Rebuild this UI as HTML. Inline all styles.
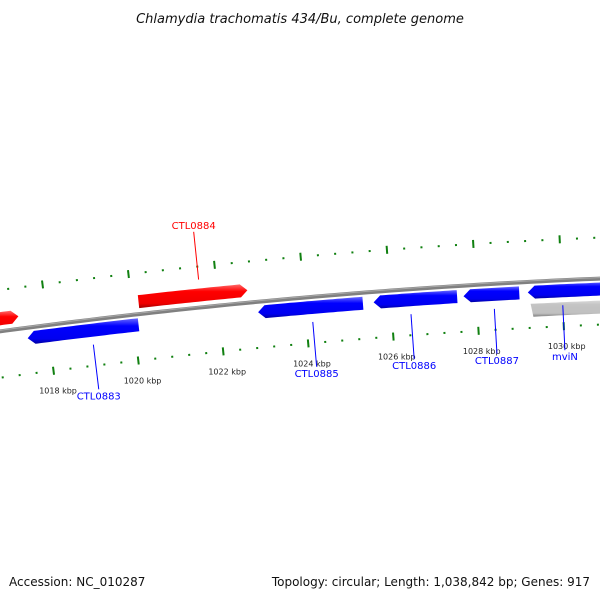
<!DOCTYPE html>
<html><head><meta charset="utf-8"><style>
body{margin:0;background:#fff}
svg{display:block;font-family:"DejaVu Sans","Liberation Sans",sans-serif}
</style></head><body>
<svg id="c" width="600" height="600" viewBox="0 0 600 600">
<defs>
<linearGradient id="gr" x1="0" y1="0" x2="0" y2="1"><stop offset="0" stop-color="#ff6a6a"/><stop offset="0.3" stop-color="#ff0000"/><stop offset="0.8" stop-color="#f00000"/><stop offset="1" stop-color="#a00000"/></linearGradient>
<linearGradient id="gb" x1="0" y1="0" x2="0" y2="1"><stop offset="0" stop-color="#6a6aff"/><stop offset="0.3" stop-color="#0000ff"/><stop offset="0.8" stop-color="#0000f0"/><stop offset="1" stop-color="#0000a0"/></linearGradient>
<linearGradient id="gg" x1="0" y1="0" x2="0" y2="1"><stop offset="0" stop-color="#e0e0e0"/><stop offset="0.3" stop-color="#c4c4c4"/><stop offset="0.8" stop-color="#c0c0c0"/><stop offset="1" stop-color="#808080"/></linearGradient>
</defs>
<text x="300" y="23" text-anchor="middle" font-size="13" font-style="italic" fill="#111">Chlamydia trachomatis 434/Bu, complete genome</text>
<text x="9" y="586" font-size="12" fill="#111">Accession: NC_010287</text>
<text x="590" y="586" text-anchor="end" font-size="12" fill="#111">Topology: circular; Length: 1,038,842 bp; Genes: 917</text>
</svg>
<script>
const geneNames=["CTL0882","CTL0884","CTL0883","CTL0885","CTL0886","CTL0887","mviN","mviN-gray"];
const geneStarts=[1016.0,1020.16,1017.5,1022.9,1025.6,1027.7,1029.2,1029.25];
const geneEnds=[1017.35,1022.7,1020.1,1025.35,1027.55,1029.0,1031.6,1031.6];
const geneStrand=[1,1,-1,-1,-1,-1,-1,0];
const labelGenes=["CTL0884","CTL0883","CTL0885","CTL0886","CTL0887","mviN"];
const labelPos=[1021.6,1019.0,1024.15,1026.45,1028.4,1030.0];
const tickLabels=[1018,1020,1022,1024,1026,1028,1030];
const svg=document.getElementById('c');
const NS='http://www.w3.org/2000/svg';
const R=6500,cx=869,cy=6773,phi0=-0.087,k=43/R;
function ang(p){return phi0+(p-1024)*k;}
function pt(p,r){const a=ang(p);return [cx+r*Math.sin(a),cy-r*Math.cos(a)];}
function mk(t,a){const e=document.createElementNS(NS,t);for(const key in a)e.setAttribute(key,a[key]);svg.appendChild(e);return e;}
// backbone
let d='';for(let p=1010;p<=1034;p+=0.25){const q=pt(p,R);d+=(d?'L':'M')+q[0].toFixed(2)+','+q[1].toFixed(2);}
const bb=mk('path',{d:d,stroke:'#808080','stroke-width':4,fill:'none'});


const bb2=mk('path',{d:d,stroke:'#a8a8a8','stroke-width':1,fill:'none',transform:'translate(0,-1)'});


// ticks
for(let i=0;i<=75;i++){const p=1016+i*0.4;const major=Math.abs(p-Math.round(p))<0.01;
 [[R+41,'outer'],[R-46,'inner']].forEach(([r,nm])=>{
  const a=pt(p,major?r-4:r-1),b=pt(p,major?r+4:r+1);
  const l=mk('line',{x1:a[0],y1:a[1],x2:b[0],y2:b[1],stroke:'#108010','stroke-width':2});
  
  
 });}
tickLabels.forEach(v=>{const q=pt(v,R-66);
 const t=mk('text',{x:q[0]+2,y:q[1]+3,'text-anchor':'middle','font-size':8,fill:'#222'});
 t.textContent=v+' kbp';
 
 });
// genes
geneNames.forEach((n,i)=>{
 const s=geneStrand[i];let r1,r2,fill;
 if(s===1){r1=R+6;r2=R+19;fill='url(#gr)';}else if(s===-1){r1=R-4;r2=R-17;fill='url(#gb)';}else{r1=R-22;r2=R-35;fill='url(#gg)';}
 const ro=Math.max(r1,r2),ri=Math.min(r1,r2),rm=(ro+ri)/2;const ah=7/43;
 let a0=geneStarts[i],a1=geneEnds[i];const pts=[];
 if(s===1){for(let p=a0;p<=a1-ah;p+=0.1)pts.push(pt(p,ro));pts.push(pt(a1-ah,ro));pts.push(pt(a1,rm));pts.push(pt(a1-ah,ri));for(let p=a1-ah;p>=a0;p-=0.1)pts.push(pt(p,ri));pts.push(pt(a0,ri));}
 else if(s===-1){pts.push(pt(a0,rm));for(let p=a0+ah;p<=a1;p+=0.1)pts.push(pt(p,ro));pts.push(pt(a1,ro));pts.push(pt(a1,ri));for(let p=a1;p>=a0+ah;p-=0.1)pts.push(pt(p,ri));pts.push(pt(a0+ah,ri));}
 else{for(let p=a0;p<=a1;p+=0.1)pts.push(pt(p,ro));pts.push(pt(a1,ro));pts.push(pt(a1,ri));for(let p=a1;p>=a0;p-=0.1)pts.push(pt(p,ri));}
 const g=mk('polygon',{points:pts.map(q=>q[0].toFixed(1)+','+q[1].toFixed(1)).join(' '),fill:fill});
 
 
});
// labels
labelGenes.forEach((n,i)=>{
 const fwd=n==='CTL0884';const col=fwd?'#ff0000':'#0000ff';
 const a=pt(labelPos[i],fwd?R+28:R-25),b=pt(labelPos[i],fwd?R+76:R-70);
 const l=mk('line',{x1:a[0],y1:a[1],x2:b[0],y2:b[1],stroke:col,'stroke-width':1});
 
 
 const t=mk('text',{x:b[0],y:fwd?b[1]-3:b[1]+10,'text-anchor':'middle','font-size':10,fill:col});
 t.textContent=n;
 
 
});
</script>
</body></html>
